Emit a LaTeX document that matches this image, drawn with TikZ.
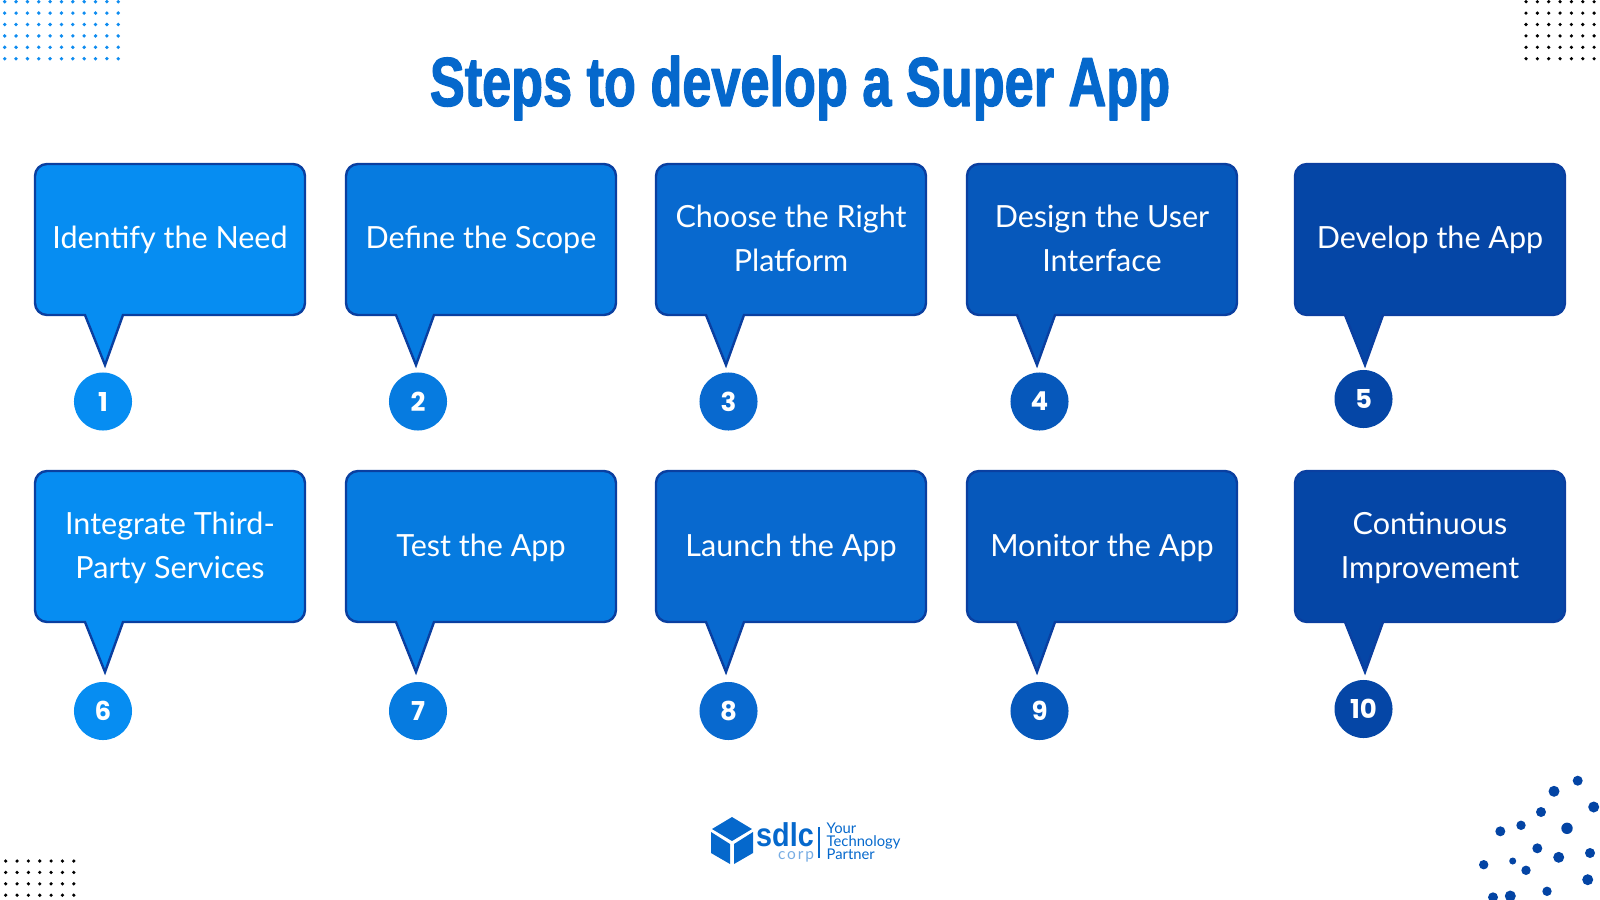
\documentclass[tikz,border=0pt]{standalone}
\usepackage{fontspec}
\setmainfont{Lato}
\newfontfamily\numfont{Poppins}
\newfontfamily\headfont{Liberation Sans}
\definecolor{stepa}{HTML}{068DF2}
\definecolor{stepb}{HTML}{067BE0}
\definecolor{stepc}{HTML}{0869CF}
\definecolor{stepd}{HTML}{0658BB}
\definecolor{stepe}{HTML}{0546A6}
\definecolor{edgeblue}{HTML}{0A3FA0}
\definecolor{logoblue}{HTML}{0568CC}
\definecolor{dotblue}{HTML}{0E8CF0}
\definecolor{blobblue}{HTML}{0344A4}
\tikzset{
	bubble/.style={draw=edgeblue, line width=.24mm, line join=miter},
	steptext/.style={text=white, align=center, font=\fontsize{8.68}{12.5}\selectfont},
	numdot/.style={circle, minimum size=5.8mm, inner sep=0pt, text=white, font=\numfont\bfseries\fontsize{7.4}{8}\selectfont},
	tagline/.style={text=logoblue, anchor=base west, inner sep=0pt, font=\fontsize{4.2}{5}\selectfont},
}
\begin{document}
\begin{tikzpicture}[x=.01cm, y=-.01cm, line join=round, line cap=round]
	\useasboundingbox (0,0) rectangle (1600,900);
	
	\node[text=logoblue] (title) at (800,88) {\scalebox{.758}[1]{\headfont\bfseries\addfontfeature{FakeBold=2.2}\fontsize{19.6}{24}\selectfont Steps to develop a Super App}};
	
	% dots in the corners
	\foreach \i in {0,...,10}\foreach \j in {0,...,5}\fill[dotblue] (4.7+\i*11.35,1.7+\j*11.4) circle (1.9);
	\foreach \i in {0,...,6}\foreach \j in {0,...,5}\fill[black] (1526+\i*11.35,1.7+\j*11.4) circle (1.8);
	\foreach \i in {0,...,6}\foreach \j in {0,...,3}\fill[black] (5.7+\i*11.35,861+\j*11.4) circle (1.8);
	\foreach \x/\y/\r in {1577.7/780.7/5,1554/791.3/5.5,1593.7/807/5.5,1541/812/5,1521/825.3/4.7,1500.3/831.3/5,1567/828.3/5.7,1537.3/848.3/5,1558.7/857.3/5.5,1590/853/5,1483.7/864.7/4.7,1512.7/861/3.5,1526/870.3/4.7,1587.7/879.7/5.5,1547/891.3/4.7,1510.3/896/5.5,1493/897.3/5}\fill[blobblue] (\x,\y) circle (\r);
	
	% the ten steps
	\foreach \nm/\xa/\yy/\ty/\cx/\ny/\clr/\txt in {
		1/35/164/240/103/401.5/stepa/{Identify the Need},
		2/346/164/240/418/401.5/stepb/{Define the Scope},
		3/656/164/238/728.5/401.5/stepc/{Choose the Right\\Platform},
		4/967/164/238/1039.5/401.5/stepd/{Design the User\\Interface},
		5/1295/164/240/1363.5/399/stepe/{Develop the App},
		6/35/471/548/103/711/stepa/{Integrate Third-\\Party Services},
		7/346/471/548/418/711/stepb/{Test the App},
		8/656/471/548/728.5/711/stepc/{Launch the App},
		9/967/471/548/1039.5/711/stepd/{Monitor the App},
		10/1295/471/548/1363.5/709/stepe/{Continuous\\Improvement}}{
		\draw[bubble, fill=\clr] (\xa+88,\yy+151) -- (\xa+258,\yy+151) arc[start angle=270, end angle=360, radius=1.2mm] -- (\xa+270,\yy+12) arc[start angle=0, end angle=90, radius=1.2mm] -- (\xa+12,\yy) arc[start angle=90, end angle=180, radius=1.2mm] -- (\xa,\yy+139) arc[start angle=180, end angle=270, radius=1.2mm] -- (\xa+50,\yy+151) -- (\xa+70,\yy+201) -- cycle;
		\node[steptext] (t\nm) at (\xa+135,\ty) {\txt};
		\node[numdot, fill=\clr] (n\nm) at (\cx,\ny) {\nm};
	}
	
	% logo
	\fill[logoblue] (732,817) -- (752,829) -- (732,841) -- (712,829) -- cycle;
	\fill[logoblue] (711,832) -- (730,844) -- (730,864) -- (711,853) -- cycle;
	\fill[logoblue] (753,832) -- (734,844) -- (734,864) -- (753,853) -- cycle;
	\node[text=logoblue, inner sep=0pt] (sdlc) at (785,834.5) {\scalebox{1.09}[1.25]{\headfont\bfseries\fontsize{7.5}{8}\selectfont sdlc}};
	\node[text=logoblue!55, inner sep=0pt] (corp) at (796,857) {\fontsize{4.4}{5}\selectfont\addfontfeature{LetterSpace=12}corp};
	\draw[logoblue, line width=.15mm, line cap=butt] (819,827) -- (819,858);
	\foreach \nm/\yy/\txt in {a/833/Your,b/846/Technology,c/859/Partner}\node[tagline] (tag\nm) at (826,\yy) {\txt};
\end{tikzpicture}
\end{document}
